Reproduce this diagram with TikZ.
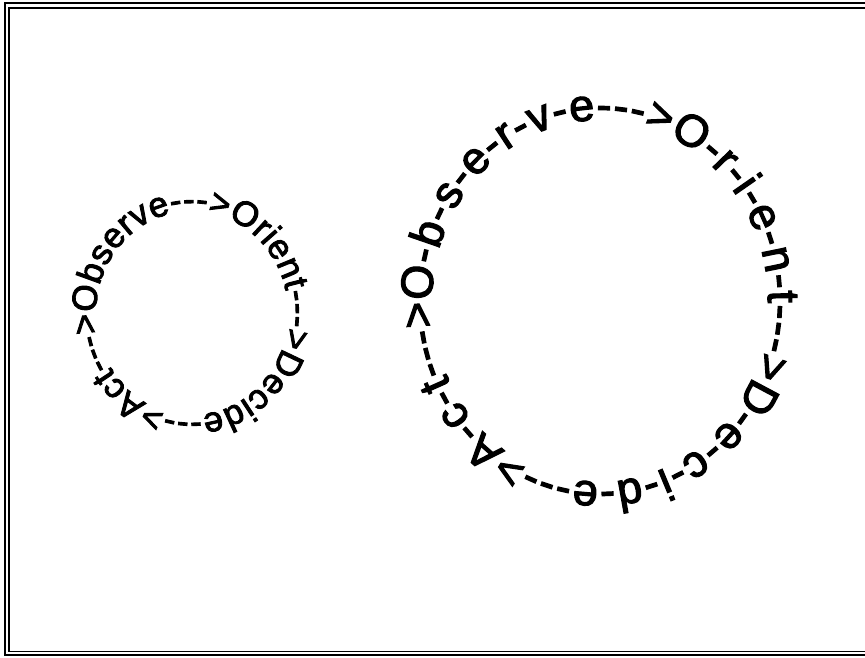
\documentclass[tikz,border=0pt]{standalone}
\usepackage{fontspec}
\setmainfont{Liberation Sans}
\newfontfamily\ringface{Liberation Sans}[FakeBold=2.6]
\usetikzlibrary{decorations.text}
\newcommand\loopfontsmall{\ringface\fontsize{35}{42}\selectfont}
\newcommand\loopfontbig{\ringface\fontsize{45}{54}\selectfont}

\begin{document}
\begin{tikzpicture}[x=1pt,y=1pt,ring/.style={decorate,decoration={text along path,text align={fit to path},text={#1}}},frame/.style={draw=black,line width=#1}]
\clip (0,0) rectangle (865,657);
\useasboundingbox (0,0) rectangle (865,657);
% double border, open on the right
\draw[frame=1.8pt] (5,2) rectangle (880,654);
\draw[frame=1.2pt] (9,5.5) rectangle (880,649);
% small loop
\coordinate (small) at (192,344);
\path[ring={|\loopfontsmall|Observe--->Orient--->Decide--->Act--->}] (small) ++(180:96 and 102) arc[start angle=180,end angle=-180,x radius=96,y radius=102];
% large loop
\coordinate (large) at (600,356);
\path[ring={|\loopfontbig|O-b-s-e-r-v-e--->O-r-i-e-n-t--->D-e-c-i-d-e--->A-c-t--->}] (large) ++(180:168 and 181) arc[start angle=180,end angle=-180,x radius=168,y radius=181];
\end{tikzpicture}
\end{document}
